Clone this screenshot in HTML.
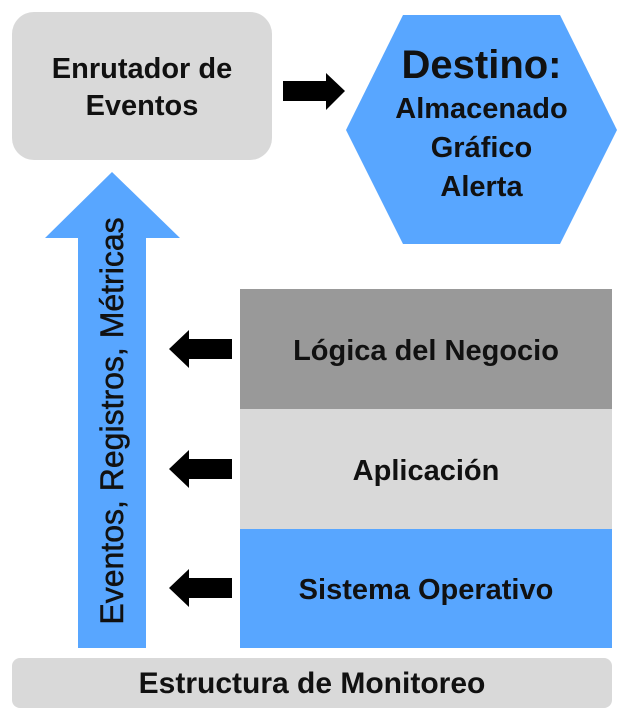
<!DOCTYPE html>
<html><head><meta charset="utf-8"><style>
body{margin:0;width:628px;height:720px;background:#fff;font-family:"Liberation Sans",sans-serif;font-weight:bold;color:#111;position:relative;overflow:hidden}
.a{position:absolute;display:flex;align-items:center;justify-content:center;text-align:center;white-space:nowrap}
</style></head><body>
<svg width="628" height="720" style="position:absolute;left:0;top:0">
<rect x="12" y="12" width="260" height="148" rx="22" fill="#d9d9d9"/>
<polygon points="283,81 326,81 326,73 345,91 326,110 326,101 283,101" fill="#000"/>
<polygon points="403,15 560,15 617,130 560,244 403,244 346,130" fill="#58a6ff"/>
<polygon points="112,172 180,238 146,238 146,648 78,648 78,238 45,238" fill="#58a6ff"/>
<rect x="240" y="289" width="372" height="120" fill="#999"/>
<rect x="240" y="409" width="372" height="120" fill="#d9d9d9"/>
<rect x="240" y="529" width="372" height="119" fill="#58a6ff"/>
<rect x="12" y="658" width="600" height="50" rx="8" fill="#d9d9d9"/>
<g fill="#000">
<polygon points="169,349 189,330 189,339 232,339 232,359 189,359 189,368"/>
<polygon points="169,469 189,450 189,459 232,459 232,479 189,479 189,488"/>
<polygon points="169,588 189,569 189,578 232,578 232,598 189,598 189,607"/>
</g>
</svg>
<div class="a" style="left:12px;top:50px;width:260px;height:76px;flex-direction:column;font-size:29px;line-height:37px"><span>Enrutador de</span><span>Eventos</span></div>
<div class="a" style="left:346px;top:40px;width:271px;flex-direction:column;font-size:29px;line-height:39px"><span style="font-size:40px;line-height:50px">Destino:</span><span>Almacenado</span><span>Gráfico</span><span>Alerta</span></div>
<div class="a" style="left:240px;top:289px;width:372px;height:124px;font-size:29px">Lógica del Negocio</div>
<div class="a" style="left:240px;top:409px;width:372px;height:124px;font-size:29px">Aplicación</div>
<div class="a" style="left:240px;top:529px;width:372px;height:123px;font-size:29px">Sistema Operativo</div>
<div class="a" style="left:12px;top:658px;width:600px;height:52px;font-size:30px">Estructura de Monitoreo</div>
<div class="a" style="left:-98px;top:401px;width:420px;height:40px;font-size:32px;transform:rotate(-90deg);font-weight:normal;-webkit-text-stroke:0.5px #111">Eventos, Registros, Métricas</div>
</body></html>
